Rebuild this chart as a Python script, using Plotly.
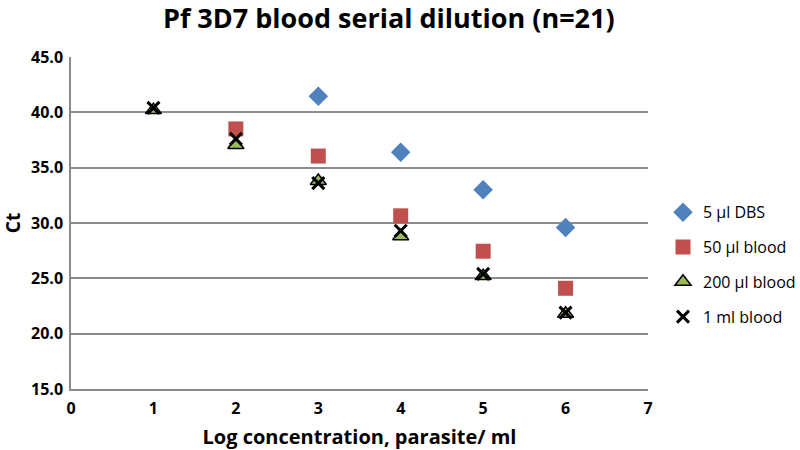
import plotly.graph_objects as go

x_vals = [1, 2, 3, 4, 5, 6]
dbs_x = [3, 4, 5, 6]
dbs_5ul = [41.45, 36.4, 33.0, 29.6]
blood_50ul_x = [2, 3, 4, 5, 6]
blood_50ul = [38.5, 36.05, 30.65, 27.45, 24.1]
blood_200ul = [40.2, 37.05, 33.8, 28.8, 25.2, 21.8]
blood_1ml = [40.4, 37.6, 33.6, 29.3, 25.4, 21.9]

names = ["5 µl DBS", "50 µl blood", "200 µl blood", "1 ml blood"]

fig = go.Figure()
fig.add_trace(go.Scatter(x=dbs_x, y=dbs_5ul, mode="markers", name=names[0], legendgroup="a",
                         marker=dict(symbol="diamond", size=15, color="#4F81BD")))
fig.add_trace(go.Scatter(x=blood_50ul_x, y=blood_50ul, mode="markers", name=names[1], legendgroup="b",
                         marker=dict(symbol="square", size=15, color="#C0504D")))
fig.add_trace(go.Scatter(x=x_vals, y=blood_200ul, mode="markers", name=names[2], legendgroup="c",
                         marker=dict(symbol="triangle-up", size=14, color="#9BBB59",
                                     line=dict(color="black", width=1.5))))
fig.add_trace(go.Scatter(x=x_vals, y=blood_1ml, mode="markers", name=names[3], legendgroup="d",
                         marker=dict(symbol="x-thin", size=12, color="black",
                                     line=dict(color="black", width=3))))

fig.update_layout(
    width=800, height=450,
    margin=dict(l=71, r=152, t=57, b=61, autoexpand=False),
    paper_bgcolor="white", plot_bgcolor="white",
    font=dict(family="Open Sans, sans-serif", color="black"),
    title=dict(text="<b>Pf 3D7 blood serial dilution (n=21)</b>", x=0.486, xanchor="center",
               xref="container", y=0.958, yanchor="middle", font=dict(size=27)),
    xaxis=dict(range=[0, 7], dtick=1, showgrid=False, showline=True, linecolor="#8c8c8c",
               linewidth=1.5, ticks="", zeroline=False, automargin=False, ticklabelstandoff=4,
               tickfont=dict(size=16, family="Open Sans", weight="bold"),
               title=dict(text="<b>Log concentration, parasite/ ml</b>", font=dict(size=20), standoff=12)),
    yaxis=dict(range=[15, 45], dtick=5, tickformat=".1f", showgrid=True, gridcolor="#8c8c8c",
               gridwidth=1.5, showline=True, linecolor="#8c8c8c", linewidth=1.5, ticks="",
               zeroline=False, automargin=False, ticklabelstandoff=3,
               tickfont=dict(size=16, family="Open Sans", weight="bold"),
               title=dict(text="<b>Ct</b>", font=dict(size=19), standoff=12)),
    legend=dict(x=1.026, xanchor="left", y=0.374, yanchor="middle", tracegroupgap=11,
                itemwidth=30, font=dict(size=16), bgcolor="rgba(0,0,0,0)"),
)

fig.write_html("out.html", config={"displayModeBar": False},
               post_script="document.body.style.margin='0';")
